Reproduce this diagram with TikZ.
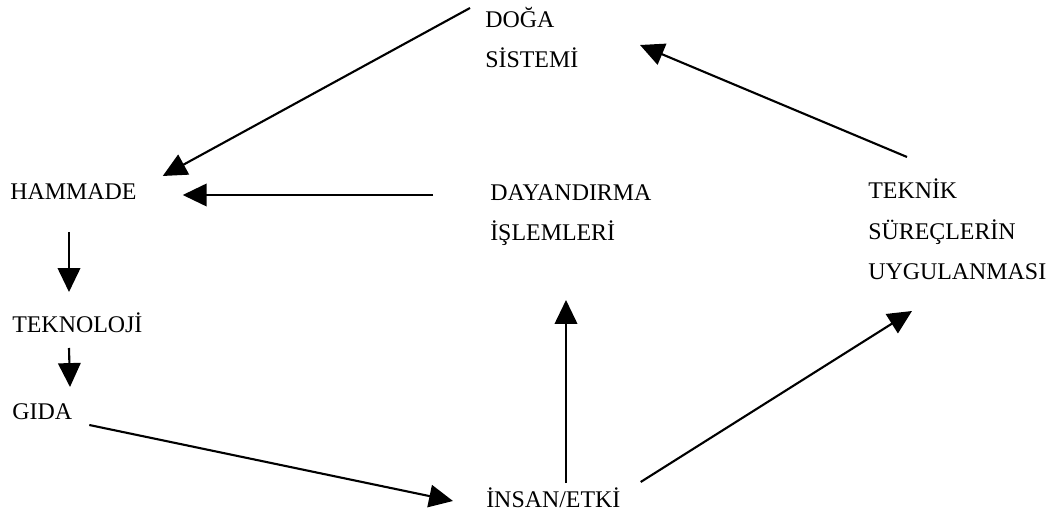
\documentclass[tikz,border=0pt]{standalone}
\usepackage{fontspec}
\setmainfont{Liberation Serif}
\usetikzlibrary{arrows.meta,calc}

\begin{document}
\begin{tikzpicture}[x=0.025cm,y=-0.025cm,>={Triangle[length=17pt,width=16pt]}]
  \tikzstyle{lbl}=[anchor=base west,inner sep=0pt,align=left,font=\fontsize{17}{29}\selectfont]
  \tikzstyle{link}=[line width=1.5pt,->]
  \useasboundingbox (0,0) rectangle (1052,517);
  % base of a multi-line label is its last line
  \node[lbl] (doga) at (485,68) {DOĞA\\SİSTEMİ};
  \node[lbl] (hammade) at (10,200) {HAMMADE};
  \node[lbl] (dayan) at (490,241) {DAYANDIRMA\\İŞLEMLERİ};
  \node[lbl] (teknik) at (868,280) {TEKNİK\\SÜREÇLERİN\\UYGULANMASI};
  \node[lbl] (teknoloji) at (12,333) {TEKNOLOJİ};
  \node[lbl] (gida) at (12,420) {GIDA};
  \node[lbl] (insan) at (486,507) {İNSAN/ETKİ};
  % the cycle
  \draw[link] ($(doga.base west)+(-15,-60)$) -- ($(hammade.base east)+(26,-24)$);
  \draw[link] ($(dayan.base west)+(-57,-46)$) -- ($(hammade.base east)+(46,-5)$);
  \draw[link] ($(hammade.base west)+(59,32)$) -- ($(teknoloji.base west)+(57,-41)$);
  \draw[link] ($(teknoloji.base west)+(57,15)$) -- ($(gida.base west)+(58,-33)$);
  \draw[link] ($(gida.base east)+(17,5)$) -- ($(insan.base west)+(-33,-6)$);
  \draw[link] ($(insan.base west)+(80,-24)$) -- ($(dayan.base west)+(76,59)$);
  \draw[link] ($(insan.base east)+(20,-25)$) -- ($(teknik.base west)+(44,31)$);
  \draw[link] ($(teknik.base west)+(39,-123)$) -- ($(doga.base west)+(155,-23)$);
\end{tikzpicture}
\end{document}
